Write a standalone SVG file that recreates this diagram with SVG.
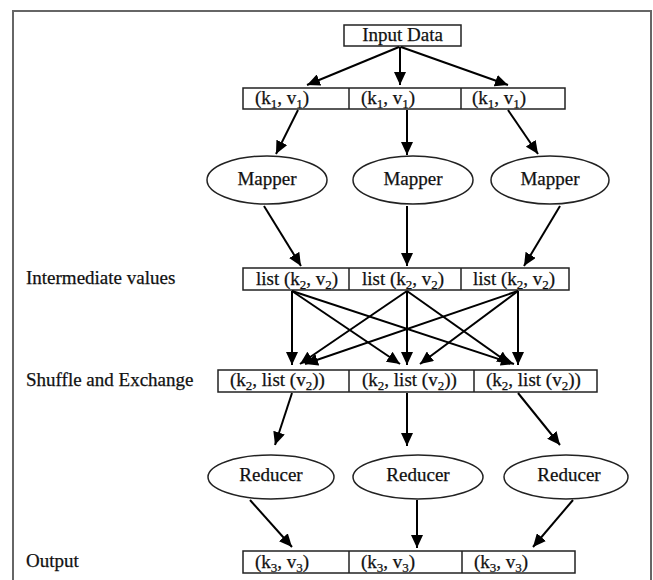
<svg xmlns="http://www.w3.org/2000/svg" width="653" height="580" viewBox="0 0 653 580">
<defs>
<marker id="ah" markerUnits="userSpaceOnUse" markerWidth="13" markerHeight="12" refX="13" refY="6" orient="auto">
<path d="M0,0 L13,6 L0,12 z" fill="#000"/>
</marker>
<style>
text{font-family:"Liberation Serif","Times New Roman",serif;font-size:19px;fill:#111;stroke:#111;stroke-width:0.25}
.sub{font-size:13px}
.box{fill:#fff;stroke:#222;stroke-width:1.5}
.ell{fill:#fff;stroke:#222;stroke-width:1.5}
.div{stroke:#222;stroke-width:1.5}
.c line{stroke:#000;stroke-width:2;marker-end:url(#ah)}
.frame{fill:none;stroke:#666;stroke-width:2}
</style>
</defs>
<rect width="653" height="580" fill="#fff"/>
<path class="frame" d="M13,580 V11 H651 V580"/>

<text x="26" y="284">Intermediate values</text>
<text x="26" y="386">Shuffle and Exchange</text>
<text x="26" y="567">Output</text>

<g id="input">
<rect class="box" x="344" y="25" width="117" height="21"/>
<text x="402.5" y="41" text-anchor="middle">Input Data</text>
</g>

<g id="row1">
<rect class="box" x="243" y="88" width="322" height="21"/>
<line class="div" x1="349" y1="88" x2="349" y2="109"/>
<line class="div" x1="461" y1="88" x2="461" y2="109"/>
<text x="255" y="104">(k<tspan class="sub" dy="4">1</tspan><tspan dy="-4">, v</tspan><tspan class="sub" dy="4">1</tspan><tspan dy="-4">)</tspan></text>
<text x="361" y="104">(k<tspan class="sub" dy="4">1</tspan><tspan dy="-4">, v</tspan><tspan class="sub" dy="4">1</tspan><tspan dy="-4">)</tspan></text>
<text x="472" y="104">(k<tspan class="sub" dy="4">1</tspan><tspan dy="-4">, v</tspan><tspan class="sub" dy="4">1</tspan><tspan dy="-4">)</tspan></text>
</g>

<g id="mapper1"><ellipse class="ell" cx="267" cy="180" rx="60" ry="24"/><text x="267" y="185" text-anchor="middle">Mapper</text></g>
<g id="mapper2"><ellipse class="ell" cx="413" cy="180" rx="60" ry="24"/><text x="413" y="185" text-anchor="middle">Mapper</text></g>
<g id="mapper3"><ellipse class="ell" cx="550" cy="180" rx="59" ry="24"/><text x="550" y="185" text-anchor="middle">Mapper</text></g>

<g id="intermediate">
<rect class="box" x="243" y="268" width="326" height="22"/>
<line class="div" x1="349" y1="268" x2="349" y2="290"/>
<line class="div" x1="461" y1="268" x2="461" y2="290"/>
<text x="256" y="285">list (k<tspan class="sub" dy="4">2</tspan><tspan dy="-4">, v</tspan><tspan class="sub" dy="4">2</tspan><tspan dy="-4">)</tspan></text>
<text x="362" y="285">list (k<tspan class="sub" dy="4">2</tspan><tspan dy="-4">, v</tspan><tspan class="sub" dy="4">2</tspan><tspan dy="-4">)</tspan></text>
<text x="473" y="285">list (k<tspan class="sub" dy="4">2</tspan><tspan dy="-4">, v</tspan><tspan class="sub" dy="4">2</tspan><tspan dy="-4">)</tspan></text>
</g>

<g id="shuffle">
<rect class="box" x="218" y="370" width="379" height="22"/>
<line class="div" x1="349" y1="370" x2="349" y2="392"/>
<line class="div" x1="474" y1="370" x2="474" y2="392"/>
<text x="230" y="386">(k<tspan class="sub" dy="4">2</tspan><tspan dy="-4">, list (v</tspan><tspan class="sub" dy="4">2</tspan><tspan dy="-4">))</tspan></text>
<text x="362" y="386">(k<tspan class="sub" dy="4">2</tspan><tspan dy="-4">, list (v</tspan><tspan class="sub" dy="4">2</tspan><tspan dy="-4">))</tspan></text>
<text x="486" y="386">(k<tspan class="sub" dy="4">2</tspan><tspan dy="-4">, list (v</tspan><tspan class="sub" dy="4">2</tspan><tspan dy="-4">))</tspan></text>
</g>

<g id="reducer1"><ellipse class="ell" cx="271" cy="477" rx="63" ry="22"/><text x="271" y="481" text-anchor="middle">Reducer</text></g>
<g id="reducer2"><ellipse class="ell" cx="418" cy="477" rx="65" ry="22"/><text x="418" y="481" text-anchor="middle">Reducer</text></g>
<g id="reducer3"><ellipse class="ell" cx="566" cy="477" rx="62" ry="22"/><text x="569" y="481" text-anchor="middle">Reducer</text></g>

<g id="output">
<rect class="box" x="243" y="551" width="332" height="22"/>
<line class="div" x1="349" y1="551" x2="349" y2="573"/>
<line class="div" x1="462" y1="551" x2="462" y2="573"/>
<text x="255" y="568">(k<tspan class="sub" dy="4">3</tspan><tspan dy="-4">, v</tspan><tspan class="sub" dy="4">3</tspan><tspan dy="-4">)</tspan></text>
<text x="361" y="568">(k<tspan class="sub" dy="4">3</tspan><tspan dy="-4">, v</tspan><tspan class="sub" dy="4">3</tspan><tspan dy="-4">)</tspan></text>
<text x="474" y="568">(k<tspan class="sub" dy="4">3</tspan><tspan dy="-4">, v</tspan><tspan class="sub" dy="4">3</tspan><tspan dy="-4">)</tspan></text>
</g>

<g id="connectors" class="c">
<line x1="399" y1="47" x2="307" y2="85"/>
<line x1="400" y1="47" x2="400" y2="85"/>
<line x1="401" y1="47" x2="508" y2="85"/>

<line x1="298" y1="110" x2="276" y2="154"/>
<line x1="407" y1="110" x2="407" y2="155"/>
<line x1="508" y1="110" x2="538" y2="154"/>

<line x1="264" y1="206" x2="301" y2="266"/>
<line x1="407" y1="206" x2="407" y2="266"/>
<line x1="560" y1="206" x2="524" y2="266"/>

<line x1="292" y1="291" x2="292" y2="365"/>
<line x1="292" y1="291" x2="400" y2="364"/>
<line x1="292" y1="291" x2="514" y2="364"/>
<line x1="407" y1="291" x2="300" y2="364"/>
<line x1="407" y1="291" x2="407" y2="365"/>
<line x1="407" y1="291" x2="510" y2="364"/>
<line x1="518" y1="291" x2="305" y2="364"/>
<line x1="518" y1="291" x2="420" y2="364"/>
<line x1="518" y1="291" x2="518" y2="365"/>

<line x1="292" y1="393" x2="275" y2="445"/>
<line x1="407" y1="393" x2="407" y2="446"/>
<line x1="518" y1="393" x2="560" y2="445"/>

<line x1="250" y1="500" x2="292" y2="547"/>
<line x1="417" y1="500" x2="417" y2="548"/>
<line x1="573" y1="500" x2="533" y2="547"/>
</g>
</svg>
